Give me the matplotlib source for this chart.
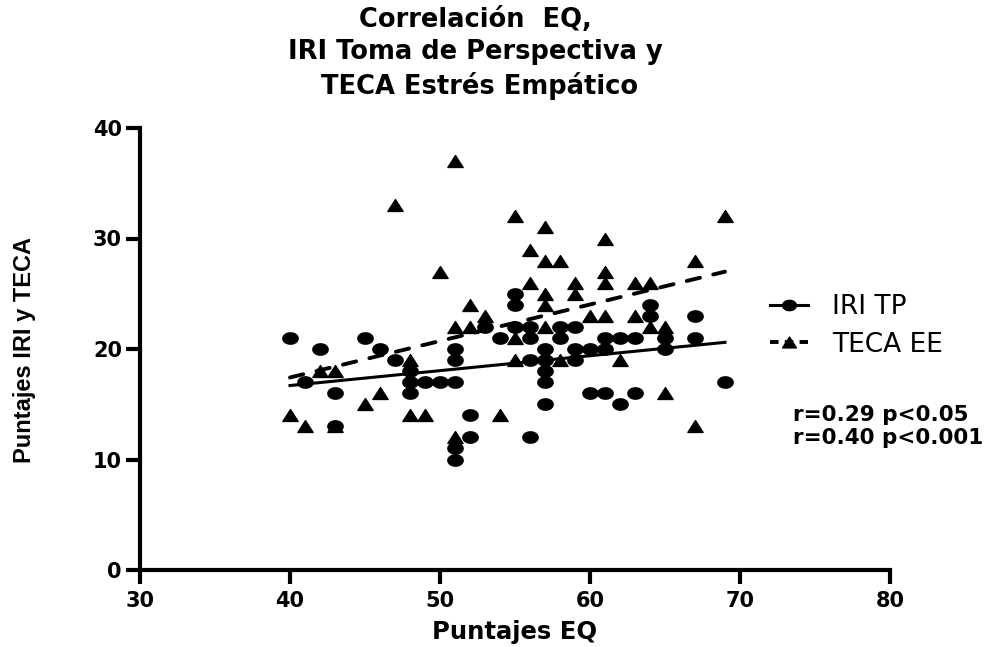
import numpy as np
import matplotlib
matplotlib.use("Agg")
import matplotlib.pyplot as plt
from matplotlib.path import Path
from matplotlib.lines import Line2D

# ---- data ----
iri_x = [40, 41, 42, 43, 43, 45, 46, 47, 48, 48, 48, 49, 50, 51, 51, 51, 51, 51,
         52, 52, 53, 54, 55, 55, 55, 56, 56, 56, 56, 57, 57, 57, 57, 57, 58, 58,
         59, 59, 59, 60, 60, 61, 61, 61, 62, 62, 63, 63, 64, 64, 65, 65, 67, 67, 69]
iri_y = [21, 17, 20, 16, 13, 21, 20, 19, 18, 17, 16, 17, 17, 17, 20, 19, 11, 10,
         14, 12, 22, 21, 25, 24, 22, 22, 21, 19, 12, 20, 19, 18, 17, 15, 22, 21,
         22, 20, 19, 20, 16, 21, 20, 16, 21, 15, 21, 16, 24, 23, 21, 20, 23, 21, 17]

teca_x = [40, 41, 42, 43, 43, 45, 46, 47, 48, 48, 49, 50, 51, 51, 51, 52, 52, 53,
          54, 55, 55, 55, 56, 56, 57, 57, 57, 57, 57, 58, 58, 59, 59, 60, 61, 61,
          61, 61, 62, 63, 63, 64, 64, 65, 65, 67, 67, 69]
teca_y = [14, 13, 18, 18, 13, 15, 16, 33, 19, 14, 14, 27, 37, 22, 12, 24, 22, 23,
          14, 32, 21, 19, 29, 26, 31, 28, 25, 24, 22, 28, 19, 26, 25, 23, 30, 27,
          26, 23, 19, 26, 23, 26, 22, 22, 16, 28, 13, 32]

title_lines = ["Correlación  EQ,", "IRI Toma de Perspectiva y", " TECA Estrés Empático"]
legend_labels = ["IRI TP", "TECA EE"]
stats_lines = ["r=0.29 p<0.05", "r=0.40 p<0.001"]
x_ticks = [30, 40, 50, 60, 70, 80]
y_ticks = [0, 10, 20, 30, 40]

# ---- figure ----
W, H = 1001, 647
fig = plt.figure(figsize=(W / 100, H / 100), dpi=100)
ax = fig.add_axes([140 / W, 1 - 570 / H, 750 / W, 442 / H])

# squashed (wide) markers like the reference
t = np.linspace(0, 2 * np.pi, 60)
ellipse = Path(np.column_stack([np.cos(t), 0.74 * np.sin(t)]), closed=True)
tri = Path([(0, 0.78), (-1, -0.78), (1, -0.78), (0, 0.78)], closed=True)

ms = 11
ax.plot(iri_x, iri_y, linestyle="none", marker=ellipse, markersize=ms,
        color="black", clip_on=False, zorder=3)
ax.plot(teca_x, teca_y, linestyle="none", marker=tri, markersize=ms,
        color="black", clip_on=False, zorder=3)

# regression lines from the data
for xs, ys, ls in [(iri_x, iri_y, "solid"), (teca_x, teca_y, "dashed")]:
    xs = np.array(xs, float)
    ys = np.array(ys, float)
    m, b = np.polyfit(xs, ys, 1)
    xx = np.array([xs.min(), xs.max()])
    if ls == "solid":
        ax.plot(xx, m * xx + b, color="black", lw=2.2, zorder=4)
    else:
        ln, = ax.plot(xx, m * xx + b, color="black", lw=2.8, zorder=4,
                      dash_capstyle="round")
        ln.set_dashes([3.5, 3.5])

ax.set_xlim(30, 80)
ax.set_ylim(0, 40)
ax.set_xticks(x_ticks)
ax.set_yticks(y_ticks)
for s in ["top", "right"]:
    ax.spines[s].set_visible(False)
for s in ["left", "bottom"]:
    ax.spines[s].set_linewidth(3)
ax.tick_params(axis="both", direction="out", length=10, width=3, color="black")
ax.tick_params(axis="y", pad=3)
ax.tick_params(axis="x", pad=5)
for lab in ax.get_xticklabels() + ax.get_yticklabels():
    lab.set_fontfamily("DejaVu Sans")
    lab.set_fontweight("bold")
    lab.set_fontsize(15)

# title
fig.text(475 / W, 1 - 7 / H, "\n".join(title_lines), ha="center", va="top",
         fontsize=18.5, fontweight="bold", family="DejaVu Sans", linespacing=1.3)

# axis labels
fig.text(515 / W, 1 - 632 / H, "Puntajes EQ", ha="center", va="center",
         fontsize=17.5, fontweight="bold", family="DejaVu Sans")
fig.text(25 / W, 1 - 350 / H, "Puntajes IRI y TECA", ha="center", va="center",
         rotation=90, fontsize=17, fontweight="bold", family="Liberation Sans")

# legend
h1 = Line2D([], [], color="black", lw=2.2, marker=ellipse, markersize=10)
h2 = Line2D([], [], color="black", lw=2.8, marker=tri, markersize=10,
            linestyle=(0, (2.2, 1.6)))
leg = fig.legend([h1, h2], legend_labels, loc="upper left",
                 bbox_to_anchor=(770 / W, 1 - 294 / H), frameon=False,
                 prop={"family": "DejaVu Sans", "size": 19},
                 handlelength=1.44, handletextpad=0.9, labelspacing=0.44,
                 borderpad=0, borderaxespad=0)

# stats text
fig.text(793 / W, 1 - 415 / H, stats_lines[0], ha="left", va="center",
         fontsize=15.5, fontweight="bold", family="DejaVu Sans")
fig.text(793 / W, 1 - 438 / H, stats_lines[1], ha="left", va="center",
         fontsize=15.5, fontweight="bold", family="DejaVu Sans")

fig.savefig("out.png", dpi=100)
